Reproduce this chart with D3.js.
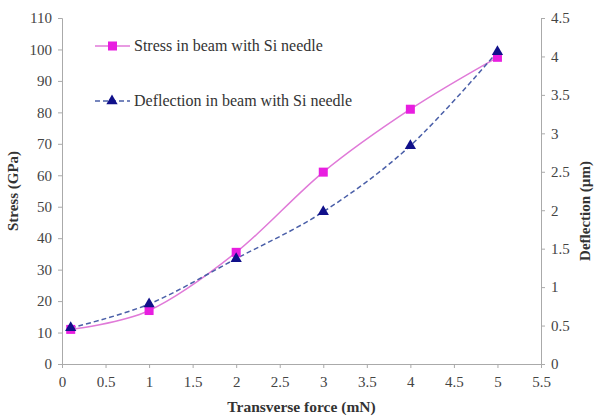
<!DOCTYPE html>
<html>
<head>
<meta charset="utf-8">
<script src="https://cdn.jsdelivr.net/npm/d3@7"></script>
<style>
  body { margin: 0; background: #fff; }
  svg text { font-family: "Liberation Serif", "Times New Roman", "DejaVu Serif", serif; }
  .axis text { font-size: 15px; fill: #444; }
  .axis path, .axis line { stroke: #aaa; }
</style>
</head>
<body>
<div id="chart"></div>
<script>
// Data
var force = [0.1, 1, 2, 3, 4, 5];
var stress = [11, 17, 35.5, 61, 81, 97.5];
var deflection = [0.47, 0.78, 1.37, 1.98, 2.84, 4.06];
var xTicks = [0, 0.5, 1, 1.5, 2, 2.5, 3, 3.5, 4, 4.5, 5, 5.5];
var yTicks = [0, 10, 20, 30, 40, 50, 60, 70, 80, 90, 100, 110];
var y2Ticks = [0, 0.5, 1, 1.5, 2, 2.5, 3, 3.5, 4, 4.5];

var svgWidth = 598;
var svgHeight = 417;
var margin = { top: 18, right: 57, bottom: 53, left: 62 };
var width = svgWidth - margin.left - margin.right;
var height = svgHeight - margin.top - margin.bottom;
var serif = "'Liberation Serif', 'Times New Roman', 'DejaVu Serif', serif";

var svg = d3.select("#chart")
  .append("svg")
  .attr("width", svgWidth)
  .attr("height", svgHeight);
var chartGroup = svg.append("g")
  .attr("transform", `translate(${margin.left}, ${margin.top})`);

// scales
var x = d3.scaleLinear().domain([0, 5.5]).range([0, width]);
var y = d3.scaleLinear().domain([0, 110]).range([height, 0]);
var y2 = d3.scaleLinear().domain([0, 4.5]).range([height, 0]);

// axes
var xAxisG = chartGroup.append("g")
  .attr("class", "axis")
  .attr("transform", `translate(0, ${height})`)
  .call(d3.axisBottom(x).tickValues(xTicks).tickSize(4).tickPadding(8).tickFormat(d3.format("")));
var yAxisG = chartGroup.append("g")
  .attr("class", "axis")
  .call(d3.axisLeft(y).tickValues(yTicks).tickSize(4).tickPadding(6));
var y2AxisG = chartGroup.append("g")
  .attr("class", "axis")
  .attr("transform", `translate(${width}, 0)`)
  .call(d3.axisRight(y2).tickValues(y2Ticks).tickSize(4).tickPadding(6).tickFormat(d3.format("")));
// d3 sets font-family on the axis group, override it
[xAxisG, yAxisG, y2AxisG].forEach(g => g.attr("font-family", null).attr("font-size", null)
  .selectAll("text").style("font-family", serif).style("font-size", "15px"));

var stressData = force.map((f, i) => ({ x: f, v: stress[i] }));
var deflData = force.map((f, i) => ({ x: f, v: deflection[i] }));

// lines
var stressLine = d3.line().x(d => x(d.x)).y(d => y(d.v)).curve(d3.curveCatmullRom.alpha(0));
var deflLine = d3.line().x(d => x(d.x)).y(d => y2(d.v)).curve(d3.curveCatmullRom.alpha(0));

chartGroup.append("path")
  .datum(stressData)
  .attr("d", stressLine)
  .attr("fill", "none")
  .attr("stroke", "#e07ad8")
  .attr("stroke-width", 1.5);

chartGroup.append("path")
  .datum(deflData)
  .attr("d", deflLine)
  .attr("fill", "none")
  .attr("stroke", "#4a5fa8")
  .attr("stroke-width", 1.5)
  .attr("stroke-dasharray", "5,3");

// markers
chartGroup.selectAll(".sq")
  .data(stressData)
  .enter()
  .append("rect")
  .attr("x", d => x(d.x) - 4.5)
  .attr("y", d => y(d.v) - 4.5)
  .attr("width", 9)
  .attr("height", 9)
  .attr("fill", "#e81ee0");

var tri = d3.symbol().type(d3.symbolTriangle).size(55);
chartGroup.selectAll(".tri")
  .data(deflData)
  .enter()
  .append("path")
  .attr("d", tri)
  .attr("transform", d => `translate(${x(d.x)}, ${y2(d.v)})`)
  .attr("fill", "#10108a");

// legend
var legend = svg.append("g");
legend.append("line")
  .attr("x1", 95).attr("x2", 130).attr("y1", 46).attr("y2", 46)
  .attr("stroke", "#e07ad8").attr("stroke-width", 1.5);
legend.append("rect")
  .attr("x", 108).attr("y", 41.5).attr("width", 9).attr("height", 9)
  .attr("fill", "#e81ee0");
legend.append("text")
  .attr("x", 134).attr("y", 51)
  .style("font-family", serif)
  .style("font-size", "16px")
  .style("fill", "#333")
  .text("Stress in beam with Si needle");

legend.append("line")
  .attr("x1", 95).attr("x2", 130).attr("y1", 101).attr("y2", 101)
  .attr("stroke", "#4a5fa8").attr("stroke-width", 1.5)
  .attr("stroke-dasharray", "5,3");
legend.append("path")
  .attr("d", tri)
  .attr("transform", "translate(112, 101)")
  .attr("fill", "#10108a");
legend.append("text")
  .attr("x", 134).attr("y", 106)
  .style("font-family", serif)
  .style("font-size", "16px")
  .style("fill", "#333")
  .text("Deflection in beam with Si needle");

// axis labels
svg.append("text")
  .attr("transform", `translate(18, ${margin.top + height / 2}) rotate(-90)`)
  .style("text-anchor", "middle")
  .style("font-family", serif)
  .style("font-size", "15px")
  .style("font-weight", "bold")
  .style("fill", "#333")
  .text("Stress (GPa)");

svg.append("text")
  .attr("transform", `translate(590, ${margin.top + height / 2 + 20}) rotate(-90)`)
  .style("text-anchor", "middle")
  .style("font-family", serif)
  .style("font-size", "15px")
  .style("font-weight", "bold")
  .style("fill", "#333")
  .text("Deflection (µm)");

svg.append("text")
  .attr("x", margin.left + x(2.75))
  .attr("y", 412)
  .style("text-anchor", "middle")
  .style("font-family", serif)
  .style("font-size", "15.5px")
  .style("font-weight", "bold")
  .style("fill", "#333")
  .text("Transverse force (mN)");
</script>
</body>
</html>
